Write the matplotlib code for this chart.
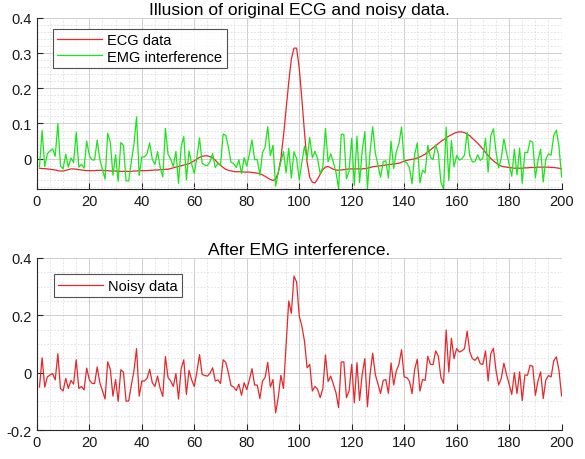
import numpy as np
import matplotlib as mpl
mpl.use('Agg')
import matplotlib.pyplot as plt
from matplotlib.ticker import MultipleLocator

mpl.rcParams['font.family'] = ['Liberation Sans', 'DejaVu Sans']

# sample index 1..200
n = np.arange(1, 201)

ecg = [
    -0.027, -0.028, -0.028, -0.029, -0.030, -0.031, -0.032, -0.034, -0.035, -0.035,
    -0.033, -0.031, -0.029, -0.029, -0.030, -0.031, -0.032, -0.033, -0.034, -0.034,
    -0.034, -0.034, -0.033, -0.033, -0.033, -0.034, -0.034, -0.035, -0.035, -0.035,
    -0.036, -0.036, -0.036, -0.036, -0.036, -0.036, -0.035, -0.035, -0.034, -0.034,
    -0.034, -0.034, -0.033, -0.033, -0.032, -0.032, -0.031, -0.031, -0.030, -0.030,
    -0.028, -0.026, -0.024, -0.022, -0.020, -0.018, -0.016, -0.014, -0.010, -0.006,
    -0.001, 0.004, 0.007, 0.008, 0.008, 0.006, 0.002, -0.004, -0.012, -0.019,
    -0.025, -0.030, -0.033, -0.035, -0.036, -0.037, -0.037, -0.037, -0.038, -0.038,
    -0.038, -0.039, -0.040, -0.041, -0.043, -0.046, -0.050, -0.055, -0.059, -0.062,
    -0.058, -0.040, 0.000, 0.065, 0.141, 0.217, 0.283, 0.314, 0.314, 0.258,
    0.170, 0.075, -0.010, -0.053, -0.067, -0.069, -0.058, -0.044, -0.031, -0.024,
    -0.022, -0.026, -0.030, -0.032, -0.033, -0.032, -0.031, -0.030, -0.029, -0.029,
    -0.029, -0.029, -0.029, -0.029, -0.028, -0.027, -0.025, -0.023, -0.022, -0.021,
    -0.020, -0.019, -0.018, -0.017, -0.016, -0.015, -0.014, -0.013, -0.010, -0.007,
    -0.005, -0.003, -0.002, 0.000, 0.002, 0.005, 0.009, 0.013, 0.019, 0.025,
    0.031, 0.037, 0.043, 0.049, 0.054, 0.059, 0.064, 0.068, 0.072, 0.075,
    0.076, 0.076, 0.074, 0.070, 0.065, 0.058, 0.051, 0.044, 0.036, 0.027,
    0.018, 0.009, 0.001, -0.006, -0.012, -0.017, -0.021, -0.023, -0.024, -0.025,
    -0.026, -0.027, -0.027, -0.027, -0.027, -0.026, -0.026, -0.025, -0.025, -0.025,
    -0.024, -0.024, -0.024, -0.024, -0.024, -0.025, -0.025, -0.026, -0.027, -0.029,
]

emg = [
    -0.023, 0.080, -0.022, 0.014, 0.022, 0.028, 0.007, 0.100, -0.020, -0.029,
    0.013, -0.024, 0.002, -0.011, 0.075, -0.024, -0.016, -0.027, 0.050, 0.009,
    -0.003, -0.004, 0.053, -0.002, -0.031, -0.058, 0.072, 0.047, -0.047, 0.011,
    -0.064, 0.046, 0.038, -0.063, -0.063, -0.008, 0.041, 0.119, -0.048, 0.005,
    0.005, 0.014, 0.045, -0.002, -0.016, 0.020, -0.024, -0.052, 0.086, 0.013,
    -0.001, -0.022, 0.021, -0.070, 0.034, 0.063, -0.060, 0.022, -0.015, -0.042,
    0.004, 0.059, -0.013, -0.018, -0.020, -0.008, 0.015, -0.025, -0.013, -0.019,
    0.070, 0.066, 0.033, -0.010, -0.014, -0.025, -0.003, -0.042, 0.003, -0.021,
    0.013, 0.053, -0.003, -0.002, -0.047, 0.017, 0.033, 0.091, 0.009, 0.038,
    -0.078, -0.040, -0.010, 0.020, -0.040, 0.030, -0.055, 0.020, 0.000, -0.060,
    -0.010, 0.035, 0.000, 0.060, 0.003, 0.021, 0.000, -0.043, -0.024, 0.086,
    -0.009, 0.014, -0.010, -0.038, -0.085, 0.069, 0.069, -0.057, -0.035, 0.058,
    -0.076, 0.064, -0.068, 0.023, 0.077, -0.085, 0.019, 0.091, 0.016, -0.019,
    -0.053, -0.008, -0.006, -0.055, 0.050, -0.028, 0.020, 0.042, 0.090, -0.008,
    -0.012, -0.026, -0.071, 0.012, 0.045, -0.069, -0.033, -0.040, 0.038, 0.004,
    -0.003, 0.039, 0.015, -0.066, -0.086, 0.090, -0.062, 0.052, -0.023, 0.009,
    -0.004, 0.000, 0.010, 0.075, 0.008, -0.009, -0.008, 0.011, -0.005, 0.002,
    0.058, -0.038, 0.065, 0.085, 0.020, -0.026, 0.001, 0.056, 0.018, -0.015,
    -0.050, 0.027, -0.046, 0.030, -0.070, 0.018, 0.017, 0.051, 0.047, -0.054,
    -0.005, 0.027, -0.066, -0.001, 0.014, 0.010, 0.066, 0.081, 0.035, -0.052,
]

noisy = [
    -0.050, 0.052, -0.050, -0.015, -0.008, -0.003, -0.025, 0.066, -0.055, -0.064,
    -0.020, -0.055, -0.027, -0.040, 0.045, -0.055, -0.048, -0.060, 0.016, -0.025,
    -0.037, -0.038, 0.020, -0.035, -0.064, -0.092, 0.038, 0.012, -0.082, -0.024,
    -0.100, 0.010, 0.002, -0.099, -0.099, -0.044, 0.006, 0.084, -0.082, -0.029,
    -0.029, -0.020, 0.012, -0.035, -0.048, -0.012, -0.055, -0.083, 0.056, -0.017,
    -0.029, -0.048, -0.003, -0.092, 0.014, 0.045, -0.076, 0.008, -0.025, -0.048,
    0.003, 0.063, -0.006, -0.010, -0.012, -0.002, 0.017, -0.029, -0.025, -0.038,
    0.045, 0.036, 0.000, -0.045, -0.050, -0.062, -0.040, -0.079, -0.035, -0.059,
    -0.025, 0.014, -0.043, -0.043, -0.090, -0.029, -0.017, 0.036, -0.050, -0.024,
    -0.140, -0.087, -0.009, -0.055, 0.099, 0.250, 0.207, 0.337, 0.316, 0.198,
    0.163, 0.110, 0.017, 0.029, -0.064, -0.048, -0.058, -0.087, -0.055, 0.062,
    -0.031, -0.012, -0.040, -0.070, -0.122, 0.037, 0.038, -0.087, -0.064, 0.029,
    -0.105, 0.035, -0.097, -0.006, 0.049, -0.119, -0.006, 0.068, -0.006, -0.040,
    -0.073, -0.027, -0.024, -0.072, 0.034, -0.043, 0.006, 0.029, 0.080, -0.015,
    -0.017, -0.029, -0.073, 0.012, 0.047, -0.064, -0.024, -0.027, 0.057, 0.029,
    0.028, 0.076, 0.058, -0.017, -0.037, 0.149, 0.002, 0.120, 0.049, 0.084,
    0.072, 0.076, 0.084, 0.145, 0.073, 0.049, 0.043, 0.055, 0.031, 0.029,
    0.076, -0.029, 0.066, 0.085, 0.008, -0.043, -0.020, 0.033, -0.006, -0.040,
    -0.076, 0.000, -0.073, 0.003, -0.097, -0.008, -0.009, 0.026, 0.022, -0.079,
    -0.029, 0.003, -0.090, -0.025, -0.010, -0.015, 0.041, 0.055, 0.008, -0.081,
]

red = '#e8272a'
green = '#19e619'
axcol = '#262626'


def style(ax, ymin, ymax, ymajor, yminor):
    ax.set_xlim(0, 200)
    ax.set_ylim(ymin, ymax)
    ax.xaxis.set_major_locator(MultipleLocator(20))
    ax.xaxis.set_minor_locator(MultipleLocator(5))
    ax.yaxis.set_major_locator(MultipleLocator(ymajor))
    ax.yaxis.set_minor_locator(MultipleLocator(yminor))
    ax.grid(which='major', color='#cfcfcf', lw=0.7)
    ax.grid(which='minor', color='#dedede', lw=0.6, ls=(0, (2, 2)))
    ax.set_axisbelow(True)
    for s in ['top', 'right']:
        ax.spines[s].set_visible(False)
    for s in ['left', 'bottom']:
        ax.spines[s].set_color(axcol)
        ax.spines[s].set_linewidth(0.8)
    ax.tick_params(which='major', direction='in', length=4, colors=axcol, labelsize=10.5,
                   labelcolor='#1a1a1a')
    ax.tick_params(which='minor', length=0)
    ax.yaxis.set_major_formatter(mpl.ticker.FuncFormatter(lambda v, p: f'{v:g}' if abs(v) > 1e-9 else '0'))


fig = plt.figure(figsize=(5.85, 4.6), dpi=100)
ax1 = fig.add_axes([0.063, 0.587, 0.897, 0.372])
ax2 = fig.add_axes([0.063, 0.063, 0.897, 0.374])

ax1.plot(n, ecg, color=red, lw=0.9, label='ECG data')
ax1.plot(n, emg, color=green, lw=0.9, label='EMG interference')
style(ax1, -0.086, 0.4, 0.1, 0.02)
ax1.set_title('Illusion of original ECG and noisy data.', fontsize=12.5, pad=3)
leg1 = ax1.legend(loc='upper left', bbox_to_anchor=(0.03, 0.935), fontsize=10.5, frameon=True,
                  fancybox=False, edgecolor='#262626', handlelength=3.1, handletextpad=0.35,
                  borderpad=0.3, labelspacing=0.15, borderaxespad=0)
leg1.get_frame().set_linewidth(0.8)

ax2.plot(n, noisy, color=red, lw=0.9, label='Noisy data')
style(ax2, -0.2, 0.4, 0.2, 0.05)
ax2.set_title('After EMG interference.', fontsize=12.5, pad=3)
leg2 = ax2.legend(loc='upper left', bbox_to_anchor=(0.032, 0.905), fontsize=10.5, frameon=True,
                  fancybox=False, edgecolor='#262626', handlelength=3.1, handletextpad=0.35,
                  borderpad=0.3, borderaxespad=0)
leg2.get_frame().set_linewidth(0.8)

plt.savefig('out.png', dpi=100)
